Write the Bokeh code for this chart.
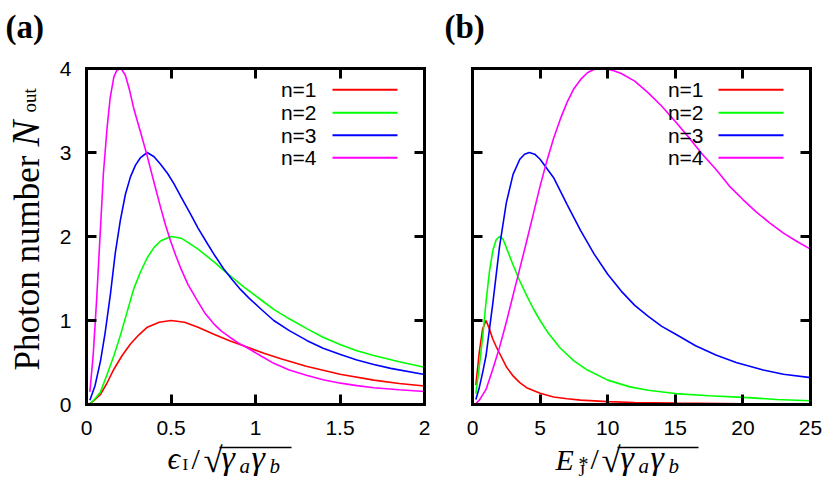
from math import pi
from bokeh.plotting import figure
from bokeh.models import Range1d, LinearAxis, Label, Arrow, FixedTicker
from bokeh.embed import file_html
from bokeh.resources import INLINE

# ---------------- data ----------------
series_labels = ["n=1", "n=2", "n=3", "n=4"]
series_colors = ["#ff0000", "#00ff00", "#0000ff", "#ff00ff"]

# panel (a): x = eps_I / sqrt(gamma_a gamma_b)
a1_x = [0.02, 0.04, 0.083, 0.12, 0.162, 0.21, 0.26, 0.31, 0.36, 0.43, 0.5, 0.58, 0.66, 0.75, 0.85, 0.95, 1.05, 1.15, 1.3, 1.5, 1.7, 1.85, 2.0]
a1_y = [0.01, 0.04, 0.12, 0.25, 0.42, 0.58, 0.72, 0.83, 0.92, 0.98, 1.0, 0.98, 0.92, 0.84, 0.755, 0.685, 0.61, 0.545, 0.455, 0.36, 0.29, 0.25, 0.22]

a2_x = [0.02, 0.043, 0.083, 0.122, 0.162, 0.20, 0.24, 0.28, 0.32, 0.36, 0.40, 0.44, 0.5, 0.56, 0.6, 0.66, 0.71, 0.76, 0.81, 0.87, 0.93, 1.03, 1.11, 1.2, 1.306, 1.4, 1.5, 1.6, 1.7, 1.85, 2.0]
a2_y = [0.01, 0.05, 0.15, 0.36, 0.58, 0.82, 1.10, 1.38, 1.58, 1.75, 1.87, 1.95, 2.0, 1.98, 1.93, 1.85, 1.77, 1.69, 1.60, 1.50, 1.40, 1.25, 1.13, 1.02, 0.9, 0.8, 0.714, 0.64, 0.583, 0.51, 0.444]

a3_x = [0.02, 0.05, 0.083, 0.11, 0.142, 0.17, 0.20, 0.23, 0.26, 0.29, 0.32, 0.359, 0.40, 0.438, 0.48, 0.517, 0.56, 0.615, 0.66, 0.714, 0.76, 0.81, 0.86, 0.911, 0.96, 1.03, 1.108, 1.2, 1.306, 1.4, 1.503, 1.6, 1.7, 1.8, 2.0]
a3_y = [0.05, 0.22, 0.52, 0.85, 1.32, 1.8, 2.19, 2.5, 2.71, 2.85, 2.94, 3.0, 2.95, 2.86, 2.75, 2.63, 2.47, 2.27, 2.10, 1.92, 1.77, 1.62, 1.49, 1.37, 1.27, 1.14, 1.0, 0.88, 0.76, 0.67, 0.595, 0.53, 0.476, 0.43, 0.357]

a4_x = [0.02, 0.04, 0.06, 0.083, 0.1, 0.122, 0.14, 0.162, 0.18, 0.205, 0.23, 0.255, 0.28, 0.32, 0.359, 0.4, 0.438, 0.467, 0.497, 0.527, 0.556, 0.6, 0.655, 0.7, 0.753, 0.8, 0.852, 0.9, 0.951, 1.03, 1.108, 1.2, 1.306, 1.4, 1.503, 1.6, 1.7, 1.85, 2.0]
a4_y = [0.15, 0.6, 1.25, 2.11, 2.75, 3.30, 3.65, 3.90, 3.98, 4.0, 3.92, 3.74, 3.52, 3.24, 2.96, 2.64, 2.35, 2.14, 1.95, 1.78, 1.63, 1.43, 1.24, 1.09, 0.96, 0.87, 0.795, 0.73, 0.675, 0.58, 0.49, 0.41, 0.345, 0.295, 0.254, 0.225, 0.20, 0.175, 0.155]

# panel (b): x = E_J^* / sqrt(gamma_a gamma_b)
b1_x = [0.25, 0.5, 0.75, 1.0, 1.25, 1.5, 1.75, 2.0, 2.5, 3.0, 3.5, 4.0, 5.0, 6.0, 7.0, 8.0, 10.0, 12.0, 15.0, 20.0, 25.0]
b1_y = [0.23, 0.62, 0.9, 1.0, 0.9, 0.78, 0.69, 0.61, 0.45, 0.34, 0.26, 0.2, 0.135, 0.09, 0.068, 0.052, 0.034, 0.024, 0.016, 0.009, 0.006]

b2_x = [0.25, 0.5, 0.75, 1.0, 1.25, 1.5, 1.75, 2.0, 2.25, 2.5, 3.0, 3.5, 4.0, 4.5, 5.0, 5.6, 6.5, 7.5, 8.5, 10.0, 11.65, 13.0, 15.0, 17.5, 20.0, 22.5, 25.0]
b2_y = [0.13, 0.45, 0.8, 1.22, 1.58, 1.83, 1.96, 2.0, 1.97, 1.87, 1.66, 1.47, 1.3, 1.14, 1.0, 0.85, 0.67, 0.52, 0.41, 0.29, 0.21, 0.17, 0.13, 0.105, 0.085, 0.06, 0.045]

b3_x = [0.25, 0.5, 0.75, 1.0, 1.5, 2.0, 2.5, 3.0, 3.5, 3.85, 4.2, 4.6, 5.0, 6.0, 7.0, 8.0, 9.0, 10.0, 11.0, 12.0, 13.0, 14.0, 15.0, 16.5, 18.0, 19.5, 21.5, 23.0, 25.0]
b3_y = [0.06, 0.2, 0.38, 0.58, 1.2, 1.88, 2.4, 2.74, 2.92, 2.98, 3.0, 2.98, 2.92, 2.7, 2.38, 2.07, 1.79, 1.55, 1.35, 1.18, 1.05, 0.93, 0.84, 0.7, 0.59, 0.5, 0.41, 0.36, 0.32]

b4_x = [0.25, 0.5, 1.0, 1.5, 2.0, 2.5, 3.0, 3.5, 4.0, 4.5, 5.0, 5.5, 6.0, 6.5, 7.0, 7.5, 8.0, 8.5, 9.0, 9.5, 10.0, 10.5, 11.0, 12.0, 13.0, 14.0, 15.0, 16.0, 17.0, 18.0, 19.0, 20.0, 21.0, 22.0, 23.0, 24.0, 25.0]
b4_y = [0.01, 0.05, 0.18, 0.42, 0.68, 0.98, 1.3, 1.62, 1.94, 2.27, 2.6, 2.9, 3.17, 3.4, 3.6, 3.76, 3.87, 3.95, 3.99, 4.0, 3.99, 3.97, 3.94, 3.85, 3.71, 3.55, 3.37, 3.18, 2.98, 2.8, 2.6, 2.44, 2.29, 2.16, 2.04, 1.94, 1.85]

a_xticks = [0, 0.5, 1, 1.5, 2]
a_xtick_labels = ["0", "0.5", "1", "1.5", "2"]
b_xticks = [0, 5, 10, 15, 20, 25]
b_xtick_labels = ["0", "5", "10", "15", "20", "25"]
yticks = [0, 1, 2, 3, 4]
ytick_labels = ["0", "1", "2", "3", "4"]

# ---------------- layout constants (screenshot pixels) ----------------
ORIGIN = 0                         # where the figure lands in the screenshot
PAGE_W, PAGE_H = 826, 482          # figure size
FW, FH = 338, 336                  # size of each panel's data rectangle
TOP, BOTTOM = 68, 404              # y of the panels' top / bottom
A_LEFT, B_LEFT = 86, 472           # x of the panels' left edges
A_RANGE = (0, 2)
B_RANGE = (0, 25)
Y_RANGE = (0, 4)
SANS = "Liberation Sans"
SERIF = "Liberation Serif"
TICK_PX = "21px"
MID = 0.33                         # baseline -> middle of text, in em


def X(px):
    """screen x -> data x of panel (a) (default x range)."""
    return A_RANGE[0] + (px - A_LEFT) / FW * (A_RANGE[1] - A_RANGE[0])


def XB(px):
    return B_RANGE[0] + (px - B_LEFT) / FW * (B_RANGE[1] - B_RANGE[0])


def Y(py):
    return Y_RANGE[0] + (BOTTOM - py) / FH * (Y_RANGE[1] - Y_RANGE[0])


p = figure(width=PAGE_W, height=PAGE_H,
           x_range=Range1d(X(ORIGIN), X(ORIGIN + PAGE_W)),
           y_range=Range1d(Y(ORIGIN + PAGE_H), Y(ORIGIN)),
           x_axis_type=None, y_axis_type=None,
           output_backend="svg", toolbar_location=None, tools="")
p.extra_x_ranges = {"b": Range1d(XB(ORIGIN), XB(ORIGIN + PAGE_W))}
p.min_border = 0
p.min_border_left = p.min_border_right = p.min_border_top = p.min_border_bottom = 0
p.grid.visible = False
p.outline_line_color = None
p.background_fill_color = "white"
p.border_fill_color = "white"


def make_axis(side, ticks, labels, fixed, bounds, show_labels, range_name="default"):
    kw = {}
    if side in ("below", "above"):
        kw["x_range_name"] = range_name
    ax = LinearAxis(ticker=FixedTicker(ticks=ticks), fixed_location=fixed, bounds=bounds, **kw)
    ax.major_label_overrides = {float(t): l for t, l in zip(ticks, labels)}
    ax.major_tick_in = 10
    ax.major_tick_out = 0
    ax.minor_tick_in = 0
    ax.minor_tick_out = 0
    ax.major_tick_line_width = 3
    ax.major_tick_line_color = "black"
    ax.axis_line_width = 3
    ax.axis_line_color = "black"
    ax.axis_line_cap = "square"
    ax.major_label_text_font = SANS
    ax.major_label_text_font_size = TICK_PX
    ax.major_label_text_color = "black" if show_labels else None
    ax.major_label_standoff = 16 if side in ("below", "above") else 15
    p.add_layout(ax, side)
    return ax


# panel (a) frame
make_axis("below", a_xticks, a_xtick_labels, Y_RANGE[0], A_RANGE, True)
make_axis("above", a_xticks, a_xtick_labels, Y_RANGE[1], A_RANGE, False)
make_axis("left", yticks, ytick_labels, X(A_LEFT), Y_RANGE, True)
make_axis("right", yticks, ytick_labels, X(A_LEFT + FW), Y_RANGE, False)
# panel (b) frame
make_axis("below", b_xticks, b_xtick_labels, Y_RANGE[0], B_RANGE, True, "b")
make_axis("above", b_xticks, b_xtick_labels, Y_RANGE[1], B_RANGE, False, "b")
make_axis("left", yticks, ytick_labels, X(B_LEFT), Y_RANGE, False)
make_axis("right", yticks, ytick_labels, X(B_LEFT + FW), Y_RANGE, False)

# curves
for xs, ys, c in zip([a1_x, a2_x, a3_x, a4_x], [a1_y, a2_y, a3_y, a4_y], series_colors):
    p.line(xs, ys, line_color=c, line_width=1.6)
for xs, ys, c in zip([b1_x, b2_x, b3_x, b4_x], [b1_y, b2_y, b3_y, b4_y], series_colors):
    p.line(xs, ys, line_color=c, line_width=1.6, x_range_name="b")


def add_text(text, px, base, size, style="normal", font=SERIF, align="left"):
    """horizontal text; base = screen y of its baseline."""
    p.add_layout(Label(x=X(px), y=Y(base - MID * size), text=text, text_font=font,
                       text_font_size=f"{size}px", text_font_style=style, text_color="black",
                       text_align=align, text_baseline="middle"))


def add_vtext(text, base, py, size, style="normal"):
    """text rotated to read upwards; base = screen x of its baseline, py = its start."""
    p.add_layout(Label(x=X(base - MID * size), y=Y(py), text=text, text_font=SERIF,
                       text_font_size=f"{size}px", text_font_style=style, text_color="black",
                       angle=pi / 2, text_align="left", text_baseline="middle"))


def add_bar(px0, px1, py, width=1.3, color="black"):
    p.add_layout(Arrow(start=None, end=None, x_start=X(px0), y_start=Y(py), x_end=X(px1), y_end=Y(py),
                       line_color=color, line_width=width))


def add_legend(text_right, line_left, line_right):
    rows = [89.3, 112.3, 134.7, 157.3]
    for lab, col, ry in zip(series_labels, series_colors, rows):
        p.add_layout(Label(x=X(text_right), y=Y(ry), text=lab, text_font=SANS, text_font_size="21px",
                           text_color="black", text_align="right", text_baseline="middle"))
        add_bar(line_left, line_right, ry, width=2, color=col)


add_legend(316, 332, 397)
add_legend(703, 718, 783)

# panel tags
add_text("(a)", 5, 37, 33, style="bold")
add_text("(b)", 444, 37, 33, style="bold")

# y axis label: Photon number N_out
add_vtext("Photon number", 39, 370, 35)
add_vtext("N", 38, 146, 39, style="italic")
add_vtext("out", 35, 112, 19)

# x axis label (a): eps_I / sqrt(gamma_a gamma_b)
add_text("\u03f5", 167, 468, 31, style="italic")
add_text("I", 182, 470, 17)
add_text("/", 191, 468, 30)
add_text("\u221a", 203, 472, 35)
add_bar(219, 291, 447)
add_text("\u03b3", 221, 468, 34, style="italic")
add_text("a", 239, 472, 21, style="italic")
add_text("\u03b3", 251, 468, 34, style="italic")
add_text("b", 269, 472, 21, style="italic")

# x axis label (b): E_J^* / sqrt(gamma_a gamma_b)
add_text("E", 555, 469, 30, style="italic")
add_text("*", 578, 470, 20)
add_text("J", 578, 476, 17)
add_text("/", 590, 468, 30)
add_text("\u221a", 601, 472, 35)
add_bar(617, 698, 447)
add_text("\u03b3", 620, 468, 34, style="italic")
add_text("a", 638, 472, 21, style="italic")
add_text("\u03b3", 650, 468, 34, style="italic")
add_text("b", 668, 472, 21, style="italic")

open("out.html", "w").write(file_html(p, INLINE))
